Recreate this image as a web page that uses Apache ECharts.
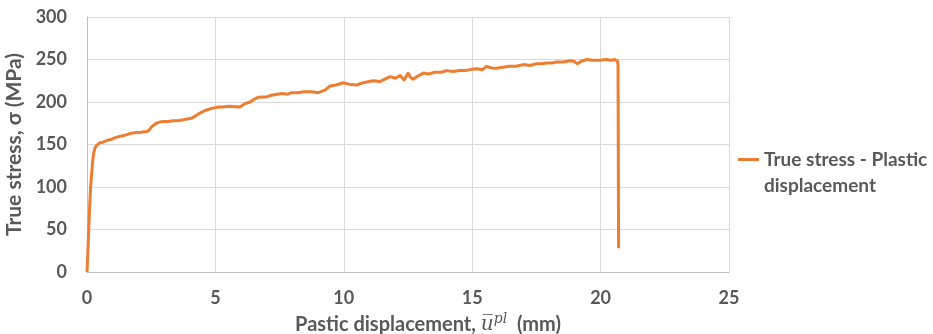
<!DOCTYPE html>
<html>
<head>
<meta charset="utf-8">
<script src="https://cdn.jsdelivr.net/npm/echarts@6/dist/echarts.min.js"></script>
<style>
  html, body { margin: 0; padding: 0; background: #fff; }
  #chart { width: 933px; height: 334px; }
</style>
</head>
<body>
<div id="chart"></div>
<script>
// plastic displacement (mm) and true stress (MPa)
const dispMm = [
  0, 0.05, 0.1, 0.14, 0.18, 0.22, 0.26, 0.31, 0.38, 0.5, 0.65, 0.8, 0.95, 1.1, 1.2, 1.35, 1.5, 1.7, 1.87, 2.05, 2.2, 2.32,
  2.42, 2.52, 2.65, 2.78, 2.95, 3.15, 3.35, 3.55, 3.75, 3.9, 4.08, 4.25, 4.4, 4.6, 4.8, 5.1, 5.3, 5.55, 5.76, 5.95,
  6.15, 6.35, 6.5, 6.66, 6.85, 7.0, 7.19, 7.4, 7.6, 7.8, 7.97, 8.2, 8.45, 8.75, 9.0, 9.27, 9.46, 9.7, 9.97, 10.2,
  10.5, 10.8, 11.14, 11.4, 11.6, 11.8, 12.0, 12.2, 12.35, 12.5, 12.6, 12.7, 12.85, 13.1, 13.3, 13.55, 13.8, 14.0,
  14.25, 14.5, 14.75, 14.98, 15.2, 15.4, 15.56, 15.75, 15.95, 16.2, 16.45, 16.7, 17.0, 17.25, 17.5, 17.7, 17.9,
  18.1, 18.3, 18.55, 18.8, 18.95, 19.1, 19.25, 19.46, 19.7, 19.98, 20.2, 20.4, 20.56, 20.63, 20.66, 20.68, 20.7
]
const stressMPa = [
  0, 35, 75, 100, 115, 130, 140, 146, 149, 152, 153, 155, 156, 158, 159, 160, 161, 163, 164, 164, 165, 165,
  167, 171, 174, 176, 177, 177, 178, 178, 179, 180, 181, 184, 187, 190, 192, 194, 194, 195, 194.5, 194,
  198, 200, 203, 205.5, 206, 206, 208, 209, 210, 209, 211, 211, 212, 212, 211, 214, 218.8, 220, 222.7, 221,
  220, 223, 225, 224, 227, 229.8, 228, 231, 226, 233.7, 229, 226.7, 230, 234, 233, 235, 235, 236.9,
  236, 237, 237, 238.4, 239, 238, 242, 240, 239.6, 241, 242, 242, 244, 243, 245, 245, 246,
  246, 247, 247, 248.6, 248, 245, 248, 250, 249, 249, 250, 249, 250, 250, 248, 243, 28
]
const xTicks = [0, 5, 10, 15, 20, 25]
const yTicks = [0, 50, 100, 150, 200, 250, 300]
const seriesName = 'True stress - Plastic displacement'

const chart = echarts.init(document.getElementById('chart'), null, { renderer: 'canvas' })

const FONT = 'Lato, "Open Sans", sans-serif'
const GREY = '#595959'

const option = {
  animation: false,
  grid: { left: 87, right: 204, top: 17, bottom: 62, outerBoundsMode: 'none' },
  legend: {
    left: 733,
    top: 142,
    orient: 'vertical',
    itemWidth: 21,
    itemHeight: 30,
    itemGap: 0,
    icon: 'path://M0,0H21V3H0Z M0,29.9H0.01V30H0Z',
    data: [{ name: seriesName, itemStyle: { color: '#ED7D31' } }],
    formatter: () => 'True stress - Plastic\ndisplacement',
    textStyle: {
      fontFamily: FONT, fontWeight: 'bold', fontSize: 19, color: GREY,
      lineHeight: 26
    }
  },
  xAxis: {
    type: 'value',
    min: xTicks[0],
    max: xTicks[xTicks.length - 1],
    interval: 5,
    name: '{b|Pastic displacement, }{u|u\u0305}{s|pl}{b|  (mm)}',
    nameLocation: 'middle',
    nameGap: 37,
    nameTextStyle: {
      padding: [0, 0, 0, 40],
      rich: {
        b: { fontFamily: FONT, fontWeight: 'bold', fontSize: 20, color: GREY },
        u: { fontFamily: '"DejaVu Serif", serif', fontStyle: 'italic', fontSize: 20, color: GREY },
        s: { fontFamily: '"DejaVu Serif", serif', fontStyle: 'italic', fontSize: 14, color: GREY, padding: [0, 0, 12, 0] }
      }
    },
    axisLine: { lineStyle: { color: '#bfbfbf', width: 1 } },
    axisTick: { show: false },
    axisLabel: { margin: 17, fontFamily: FONT, fontWeight: 'bold', fontSize: 18, color: GREY },
    splitLine: { show: true, lineStyle: { color: '#d9d9d9', width: 1 } }
  },
  yAxis: {
    type: 'value',
    min: yTicks[0],
    max: yTicks[yTicks.length - 1],
    interval: 50,
    name: 'True stress, \u03c3 (MPa)',
    nameLocation: 'middle',
    nameGap: 52,
    nameTextStyle: { fontFamily: FONT, fontWeight: 'bold', fontSize: 21, color: GREY },
    axisLine: { show: true, lineStyle: { color: '#bfbfbf', width: 1 } },
    axisTick: { show: false },
    axisLabel: { margin: 20, fontFamily: FONT, fontWeight: 'bold', fontSize: 18, color: GREY },
    splitLine: { show: true, lineStyle: { color: '#d9d9d9', width: 1 } }
  },
  series: [
    {
      name: seriesName,
      type: 'line',
      data: dispMm.map((x, i) => [x, stressMPa[i]]),
      showSymbol: false,
      symbol: 'none',
      lineStyle: { color: '#ED7D31', width: 3, join: 'round' },
      itemStyle: { color: '#ED7D31' }
    }
  ]
}

chart.setOption(option)
</script>
</body>
</html>
